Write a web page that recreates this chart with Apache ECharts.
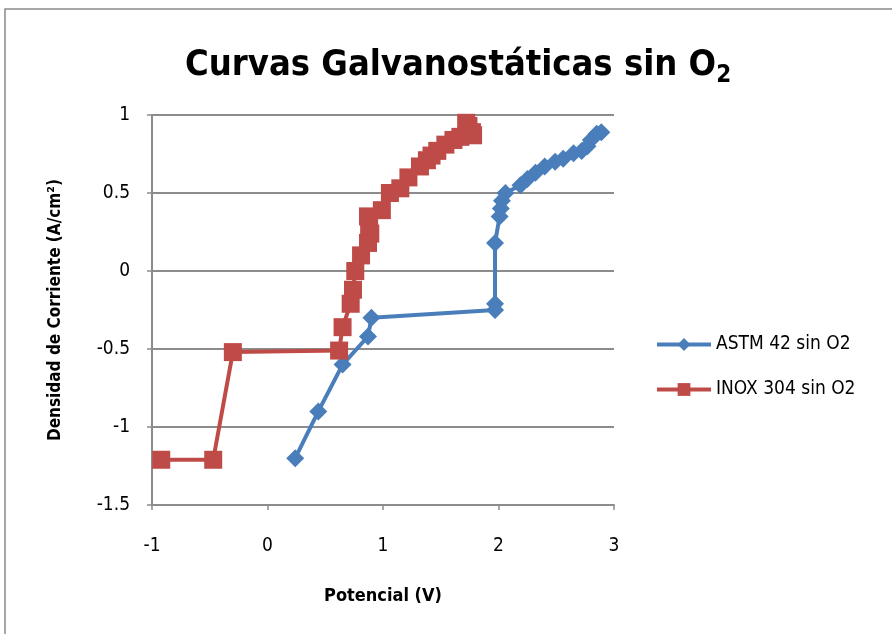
<!DOCTYPE html>
<html>
<head>
<meta charset="utf-8">
<script src="https://cdn.jsdelivr.net/npm/echarts@6/dist/echarts.min.js"></script>
<style>
  html, body { margin: 0; padding: 0; background: #fff; }
  #chart { width: 892px; height: 634px; }
</style>
</head>
<body>
<div id="chart"></div>
<script>
// potencial (V), densidad de corriente (A/cm2)
const astmPoints = [
  [0.24, -1.2], [0.44, -0.9], [0.65, -0.6], [0.87, -0.42], [0.9, -0.3],
  [1.97, -0.25], [1.97, -0.21], [1.97, 0.18], [2.01, 0.35], [2.02, 0.4],
  [2.03, 0.45], [2.06, 0.5], [2.19, 0.55], [2.25, 0.59], [2.32, 0.63],
  [2.4, 0.67], [2.49, 0.7], [2.56, 0.72], [2.65, 0.755], [2.72, 0.77],
  [2.77, 0.8], [2.8, 0.84], [2.85, 0.88], [2.89, 0.89]
];
const inoxPoints = [
  [-0.92, -1.21], [-0.47, -1.21], [-0.3, -0.52], [0.62, -0.51], [0.65, -0.36],
  [0.72, -0.21], [0.74, -0.12], [0.76, 0.0], [0.81, 0.1], [0.87, 0.18],
  [0.89, 0.24], [0.88, 0.29], [0.87, 0.35], [0.99, 0.39], [1.06, 0.5],
  [1.15, 0.53], [1.22, 0.6], [1.32, 0.67], [1.38, 0.71], [1.42, 0.74],
  [1.47, 0.77], [1.54, 0.81], [1.61, 0.84], [1.67, 0.86], [1.72, 0.95],
  [1.74, 0.93], [1.77, 0.89], [1.78, 0.87]
];
const seriesNames = ['ASTM 42 sin O2', 'INOX 304 sin O2'];

const narrow = "'DejaVu Sans Condensed', 'Liberation Sans Narrow', sans-serif";
const gridGray = '#8c8c8c';

const chart = echarts.init(document.getElementById('chart'));
chart.setOption({
  animation: false,
  textStyle: { fontFamily: narrow, color: '#000' },
  graphic: [{
    type: 'rect',
    shape: { x: 5, y: 9, width: 900, height: 700 },
    style: { fill: 'none', stroke: '#8a8a8a', lineWidth: 1.5 },
    silent: true
  }],
  title: {
    text: 'Curvas Galvanostáticas sin {b|O}{s|2}',
    left: 180,
    top: 39,
    textStyle: {
      fontFamily: narrow, fontWeight: 'bold', fontSize: 36, color: '#000',
      rich: {
        b: { fontFamily: narrow, fontWeight: 'bold', fontSize: 36, color: '#000' },
        s: { fontFamily: narrow, fontWeight: 'bold', fontSize: 24, color: '#000', padding: [20, 0, 0, 0] }
      }
    }
  },
  legend: {
    orient: 'vertical',
    left: 650,
    top: 330,
    itemWidth: 54,
    itemHeight: 16,
    itemGap: 26,
    lineStyle: { width: 4 },
    textStyle: { fontFamily: narrow, fontSize: 19, color: '#000' },
    data: seriesNames
  },
  grid: { left: 152, right: 278, top: 115, bottom: 129 },
  xAxis: {
    type: 'value',
    min: -1, max: 3, interval: 1,
    name: 'Potencial (V)',
    nameLocation: 'middle',
    nameGap: 82,
    nameTextStyle: { fontFamily: narrow, fontWeight: 'bold', fontSize: 18, color: '#000' },
    axisLine: { onZero: false, lineStyle: { color: gridGray, width: 2 } },
    axisTick: { show: true, length: 5, inside: false, lineStyle: { color: gridGray, width: 1.5 } },
    axisLabel: { fontFamily: narrow, fontSize: 19, color: '#000', margin: 32 },
    splitLine: { show: false }
  },
  yAxis: {
    type: 'value',
    min: -1.5, max: 1, interval: 0.5,
    name: 'Densidad de Corriente (A/cm²)',
    nameLocation: 'middle',
    nameGap: 88,
    nameTextStyle: { fontFamily: narrow, fontWeight: 'bold', fontSize: 17, color: '#000' },
    axisLine: { show: true, onZero: false, lineStyle: { color: gridGray, width: 2 } },
    axisTick: { show: true, length: 5, lineStyle: { color: gridGray, width: 1.5 } },
    axisLabel: { fontFamily: narrow, fontSize: 19, color: '#000', margin: 22 },
    splitLine: { show: true, lineStyle: { color: gridGray, width: 2 } }
  },
  series: [
    {
      name: seriesNames[0],
      type: 'line',
      data: astmPoints,
      symbol: 'diamond',
      symbolSize: 18,
      lineStyle: { color: '#4a7ebb', width: 4 },
      itemStyle: { color: '#4a7ebb' }
    },
    {
      name: seriesNames[1],
      type: 'line',
      data: inoxPoints,
      symbol: 'rect',
      symbolSize: 18,
      lineStyle: { color: '#be4b48', width: 4 },
      itemStyle: { color: '#be4b48' }
    }
  ]
});
</script>
</body>
</html>
